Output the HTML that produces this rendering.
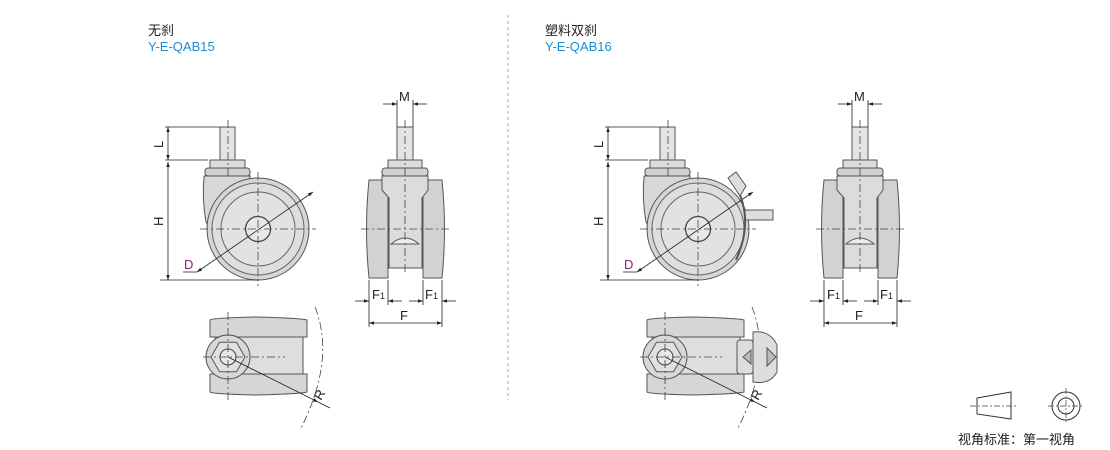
<!DOCTYPE html>
<html><head><meta charset="utf-8"><style>
html,body{margin:0;padding:0;background:#fff;width:1110px;height:450px;overflow:hidden}
svg{display:block}
text{font-family:"Liberation Sans","Noto Sans CJK SC",sans-serif}
</style></head><body>
<svg width="1110" height="450" viewBox="0 0 1110 450" xmlns="http://www.w3.org/2000/svg">
<defs>
<marker id="a" viewBox="0 0 10 10" refX="10" refY="5" markerWidth="8" markerHeight="5" markerUnits="userSpaceOnUse" orient="auto-start-reverse"><path d="M0,1.5 L10,5 L0,8.5 z" fill="#222"/></marker>

<g id="side">
  <rect x="220" y="127" width="15" height="33" fill="#e4e4e4" stroke="#555" stroke-width="1"/>
  <rect x="210" y="160" width="35" height="8" fill="#dcdcdc" stroke="#555"/>
  <rect x="205" y="168" width="45" height="8" rx="3" fill="#d0d0d0" stroke="#555"/>
  <path d="M204,176 L250,176 L250,200 L228,205 Q212,215 214,236 L206,222 Q202,200 204,176 z" fill="#d8d8d8" stroke="#555"/>
  <circle cx="258" cy="229" r="51" fill="#d6d6d6" stroke="#555"/>
  <circle cx="258" cy="229" r="46" fill="#dedede" stroke="#666"/>
  <circle cx="258" cy="229" r="37" fill="#e2e2e2" stroke="#666"/>
  <circle cx="258" cy="229" r="12.5" fill="#e8e8e8" stroke="#444" stroke-width="1.3"/>
  <line x1="228" y1="120" x2="228" y2="178" stroke="#444" stroke-dasharray="8,3,2,3" stroke-width="0.8"/>
  <line x1="258" y1="172" x2="258" y2="286" stroke="#444" stroke-dasharray="8,3,2,3" stroke-width="0.8"/>
  <line x1="200" y1="229" x2="316" y2="229" stroke="#444" stroke-dasharray="8,3,2,3" stroke-width="0.8"/>
  <line x1="165" y1="127" x2="220" y2="127" stroke="#222" stroke-width="0.8"/>
  <line x1="165" y1="160" x2="208" y2="160" stroke="#222" stroke-width="0.8"/>
  <line x1="160" y1="280" x2="258" y2="280" stroke="#222" stroke-width="0.8"/>
  <line x1="168" y1="127" x2="168" y2="160" stroke="#222" stroke-width="0.8" marker-start="url(#a)" marker-end="url(#a)"/>
  <line x1="168" y1="162" x2="168" y2="280" stroke="#222" stroke-width="0.8" marker-start="url(#a)" marker-end="url(#a)"/>
  <text x="0" y="0" font-size="13" transform="translate(163,148) rotate(-90)" fill="#222">L</text>
  <text x="0" y="0" font-size="13" transform="translate(163,226) rotate(-90)" fill="#222">H</text>
  <line x1="183" y1="272" x2="197" y2="272" stroke="#222" stroke-width="0.8"/>
  <line x1="197" y1="272" x2="313" y2="192" stroke="#222" stroke-width="0.8" marker-start="url(#a)" marker-end="url(#a)"/>
  <text x="184" y="269" font-size="13" fill="#8b1f86">D</text>
</g>

<g id="front">
  <rect x="397" y="127" width="16" height="33" fill="#e4e4e4" stroke="#555"/>
  <rect x="388" y="160" width="34" height="8" fill="#dcdcdc" stroke="#555"/>
  <rect x="382" y="168" width="46" height="8" rx="3" fill="#d0d0d0" stroke="#555"/>
  <path d="M369,180 L388,180 L388,278 L369,278 Q364,229 369,180z" fill="#d2d2d2" stroke="#555"/>
  <path d="M423,180 L442,180 Q447,229 442,278 L423,278 z" fill="#d2d2d2" stroke="#555"/>
  <path d="M382,176 L428,176 L428,190 L422,198 L422,268 L389,268 L389,198 L382,190 z" fill="#dcdcdc" stroke="#555"/>
  <path d="M391,244 Q405,232 419,244 z" fill="#eee" stroke="#555"/>
  <line x1="405" y1="120" x2="405" y2="272" stroke="#444" stroke-dasharray="8,3,2,3" stroke-width="0.8"/>
  <line x1="361" y1="229" x2="450" y2="229" stroke="#444" stroke-dasharray="8,3,2,3" stroke-width="0.8"/>
  <line x1="397" y1="100" x2="397" y2="127" stroke="#222" stroke-width="0.8"/>
  <line x1="413" y1="100" x2="413" y2="127" stroke="#222" stroke-width="0.8"/>
  <line x1="383" y1="104" x2="397" y2="104" stroke="#222" stroke-width="0.8" marker-end="url(#a)"/>
  <line x1="427" y1="104" x2="413" y2="104" stroke="#222" stroke-width="0.8" marker-end="url(#a)"/>
  <text x="399" y="101" font-size="13" fill="#222">M</text>
  <g stroke="#222" stroke-width="0.8">
  <line x1="369" y1="280" x2="369" y2="327"/><line x1="388" y1="280" x2="388" y2="305"/>
  <line x1="423" y1="280" x2="423" y2="305"/><line x1="442" y1="280" x2="442" y2="327"/>
  </g>
  <line x1="355" y1="301" x2="369" y2="301" stroke="#222" stroke-width="0.8" marker-end="url(#a)"/>
  <line x1="402" y1="301" x2="388" y2="301" stroke="#222" stroke-width="0.8" marker-end="url(#a)"/>
  <line x1="409" y1="301" x2="423" y2="301" stroke="#222" stroke-width="0.8" marker-end="url(#a)"/>
  <line x1="456" y1="301" x2="442" y2="301" stroke="#222" stroke-width="0.8" marker-end="url(#a)"/>
  <line x1="369" y1="323" x2="442" y2="323" stroke="#222" stroke-width="0.8" marker-start="url(#a)" marker-end="url(#a)"/>
  <text x="372" y="299" font-size="13" fill="#222">F<tspan font-size="9">1</tspan></text>
  <text x="425" y="299" font-size="13" fill="#222">F<tspan font-size="9">1</tspan></text>
  <text x="400" y="320" font-size="13" fill="#222">F</text>
</g>

<g id="bottom">
  <path d="M210,320 Q212,318 255,317 Q300,318 307,320 L307,337 L210,337 z" fill="#d6d6d6" stroke="#555"/>
  <path d="M210,374 L307,374 L307,392 Q300,394 255,395 Q212,394 210,392 z" fill="#d6d6d6" stroke="#555"/>
  <rect x="215" y="337" width="88" height="37" fill="#dedede" stroke="#555"/>
  <circle cx="228" cy="357" r="22" fill="#d8d8d8" stroke="#555"/>
  <polygon points="245,357 236.5,371.7 219.5,371.7 211,357 219.5,342.3 236.5,342.3" fill="#e0e0e0" stroke="#555"/>
  <circle cx="228" cy="357" r="8" fill="#e8e8e8" stroke="#444"/>
  <line x1="228" y1="312" x2="228" y2="400" stroke="#444" stroke-dasharray="8,3,2,3" stroke-width="0.8"/>
  <line x1="203" y1="357" x2="285" y2="357" stroke="#444" stroke-dasharray="8,3,2,3" stroke-width="0.8"/>
  <path d="M315,307 Q336,360 300,430" fill="none" stroke="#444" stroke-dasharray="8,3,2,3" stroke-width="0.8"/>
  <line x1="228" y1="357" x2="318" y2="402" stroke="#222" stroke-width="0.8" marker-end="url(#a)"/>
  <line x1="318" y1="402" x2="330" y2="408" stroke="#222" stroke-width="0.8"/>
  <text x="0" y="0" font-size="13" transform="translate(321,401) rotate(-60)" fill="#222">R</text>
</g>
</defs>

<use href="#side"/>
<use href="#front"/>
<use href="#bottom"/>
<g transform="translate(440,0)">
  <use href="#side"/>
  <path d="M288,178 L296,172 L306,186 L300,196 z" fill="#ddd" stroke="#555"/>
  <rect x="305" y="210" width="28" height="10" fill="#ddd" stroke="#555"/>
  <path d="M300,195 Q312,225 296,260" fill="none" stroke="#555" stroke-width="2"/>
</g>
<g transform="translate(455,0)"><use href="#front"/></g>
<g transform="translate(437,0)">
  <use href="#bottom"/>
  <rect x="300" y="340" width="16" height="34" rx="3" fill="#ddd" stroke="#555"/>
  <path d="M316,332 Q333,330 340,345 L340,372 Q333,385 316,382 z" fill="#ddd" stroke="#555"/>
  <polygon points="306,357 314,350 314,364" fill="#bbb" stroke="#555"/>
  <polygon points="339,357 330,348 330,366" fill="#bbb" stroke="#555"/>
</g>

<line x1="508" y1="15" x2="508" y2="400" stroke="#aaa" stroke-dasharray="3,3" stroke-width="1"/>

<text x="148" y="35" font-size="13" fill="#222">无刹</text>
<text x="148" y="51" font-size="13" fill="#1a8fd0">Y-E-QAB15</text>
<text x="545" y="35" font-size="13" fill="#222">塑料双刹</text>
<text x="545" y="51" font-size="13" fill="#1a8fd0">Y-E-QAB16</text>

<polygon points="977,398 1011,392 1011,419 977,414" fill="none" stroke="#333" stroke-width="1"/>
<line x1="970" y1="406" x2="1018" y2="406" stroke="#444" stroke-dasharray="6,2,2,2" stroke-width="0.7"/>
<circle cx="1066" cy="406" r="14" fill="none" stroke="#333"/>
<circle cx="1066" cy="406" r="8" fill="none" stroke="#333"/>
<line x1="1048" y1="406" x2="1084" y2="406" stroke="#444" stroke-dasharray="6,2,2,2" stroke-width="0.7"/>
<line x1="1066" y1="388" x2="1066" y2="424" stroke="#444" stroke-dasharray="6,2,2,2" stroke-width="0.7"/>
<text x="958" y="444" font-size="13" fill="#222">视角标准：第一视角</text>
</svg>
</body></html>
